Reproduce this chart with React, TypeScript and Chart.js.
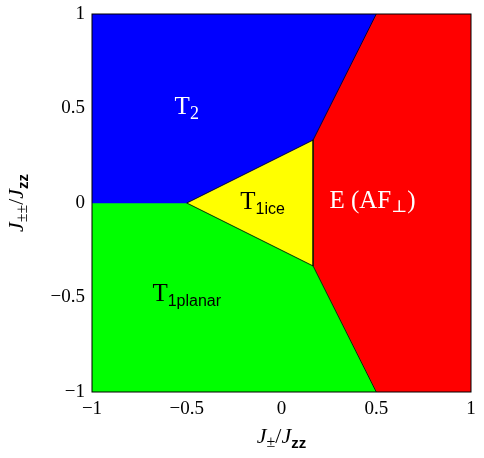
import React, { useEffect, useRef } from 'react';
import { Chart, registerables } from 'chart.js';

Chart.register(...registerables);

// Axis ticks
const tickValues = [-1, -0.5, 0, 0.5, 1];

// Phase regions (polygon vertices, in J±/Jzz , J±±/Jzz units)
const t2X = [-1, 0.5, 1 / 6, -0.5, -1, -1];
const t2Y = [1, 1, 1 / 3, 0, 0, 1];
const planarX = [-1, -0.5, 1 / 6, 0.5, -1, -1];
const planarY = [0, 0, -1 / 3, -1, -1, 0];
const iceX = [-0.5, 1 / 6, 1 / 6, -0.5];
const iceY = [0, 1 / 3, -1 / 3, 0];
const afX = [0.5, 1, 1, 0.5, 1 / 6, 1 / 6, 0.5];
const afY = [1, 1, -1, -1, -1 / 3, 1 / 3, 1];

// Phase boundaries
const boundaryX = [0.5, 1 / 6, -0.5, 1 / 6, 0.5];
const boundaryY = [1, 1 / 3, 0, -1 / 3, -1];
const boundary2X = [1 / 6, 1 / 6];
const boundary2Y = [1 / 3, -1 / 3];

// Phase names
const phaseNames = ['T2', 'T1planar', 'T1ice', 'E (AF⊥)'];

const SERIF = '"Liberation Serif", "DejaVu Serif", serif';
const SANS = '"Liberation Sans", "DejaVu Sans", sans-serif';

const pts = (xs: number[], ys: number[]) => xs.map((x, i) => ({ x, y: ys[i] }));

type Part = { text: string; font: string; dy?: number };

function drawRich(ctx: CanvasRenderingContext2D, parts: Part[], cx: number, baseline: number, color: string) {
  ctx.save();
  ctx.fillStyle = color;
  ctx.textBaseline = 'alphabetic';
  ctx.textAlign = 'left';
  let total = 0;
  const widths = parts.map((p) => {
    ctx.font = p.font;
    const w = ctx.measureText(p.text).width;
    total += w;
    return w;
  });
  let x = cx - total / 2;
  parts.forEach((p, i) => {
    ctx.font = p.font;
    ctx.fillText(p.text, x, baseline + (p.dy || 0));
    x += widths[i];
  });
  ctx.restore();
}

const labelPlugin = {
  id: 'labels',
  afterDraw(chart: any) {
    const ctx: CanvasRenderingContext2D = chart.ctx;
    const xs = chart.scales.x;
    const ys = chart.scales.y;
    const area = chart.chartArea;

    // frame
    ctx.save();
    ctx.strokeStyle = '#000';
    ctx.lineWidth = 1;
    ctx.strokeRect(area.left, area.top, area.right - area.left, area.bottom - area.top);
    ctx.restore();

    const big = `25px ${SERIF}`;
    const sub = `18px ${SERIF}`;
    const subSans = `16px ${SANS}`;

    // T2
    drawRich(ctx, [{ text: 'T', font: big }, { text: '2', font: sub, dy: 5 }],
      xs.getPixelForValue(-0.5), ys.getPixelForValue(0.47), '#fff');
    // T1ice
    drawRich(ctx, [{ text: 'T', font: big }, { text: '1ice', font: subSans, dy: 5 }],
      xs.getPixelForValue(-0.1), ys.getPixelForValue(-0.03), '#000');
    // E (AF⊥)
    drawRich(ctx, [{ text: 'E (AF', font: `25px ${SERIF}` }, { text: '⊥', font: `17px ${SERIF}`, dy: 4 }, { text: ')', font: `25px ${SERIF}` }],
      xs.getPixelForValue(0.48), ys.getPixelForValue(-0.025), '#fff');
    // T1planar
    drawRich(ctx, [{ text: 'T', font: big }, { text: '1planar', font: subSans, dy: 5 }],
      xs.getPixelForValue(-0.5), ys.getPixelForValue(-0.52), '#000');

    // x-axis title
    const tf = `italic 22px ${SERIF}`;
    drawRich(ctx, [
      { text: 'J', font: tf },
      { text: '±', font: `16px ${SERIF}`, dy: 4 },
      { text: '/', font: `22px ${SERIF}` },
      { text: 'J', font: tf },
      { text: 'zz', font: `bold 15px ${SANS}`, dy: 5 },
    ], (area.left + area.right) / 2, 443, '#000');

    // y-axis title (rotated)
    ctx.save();
    ctx.translate(23, (area.top + area.bottom) / 2);
    ctx.rotate(-Math.PI / 2);
    drawRich(ctx, [
      { text: 'J', font: tf },
      { text: '±±', font: `16px ${SERIF}`, dy: 4 },
      { text: '/', font: `22px ${SERIF}` },
      { text: 'J', font: tf },
      { text: 'zz', font: `bold 15px ${SANS}`, dy: 5 },
    ], 0, 0, '#000');
    ctx.restore();
  },
};

export default function App() {
  const ref = useRef<HTMLCanvasElement>(null);

  useEffect(() => {
    document.body.style.margin = '0';
    const fmt = (v: number) => (v < 0 ? '−' + String(Math.abs(v)) : String(v));
    const fillDs = (label: string, xs: number[], ys: number[], color: string) => ({
      label,
      data: pts(xs, ys),
      backgroundColor: color,
      borderColor: color,
      borderWidth: 0.5,
      pointRadius: 0,
      fill: 'shape',
      tension: 0,
      order: 2,
    });
    const chart = new Chart(ref.current!, {
      type: 'line',
      data: {
        datasets: [
          { label: 'b1', data: pts(boundaryX, boundaryY), borderColor: '#000', borderWidth: 0.8, pointRadius: 0, fill: false, order: 0 } as any,
          { label: 'b2', data: pts(boundary2X, boundary2Y), borderColor: '#000', borderWidth: 0.8, pointRadius: 0, fill: false, order: 0 } as any,
          fillDs(phaseNames[0], t2X, t2Y, '#0000ff'),
          fillDs(phaseNames[1], planarX, planarY, '#00ff00'),
          fillDs(phaseNames[2], iceX, iceY, '#ffff00'),
          fillDs(phaseNames[3], afX, afY, '#ff0000'),
        ],
      },
      options: {
        responsive: false,
        animation: false,
        layout: { padding: { top: 14, right: 13, left: 0, bottom: 0 } },
        plugins: { legend: { display: false }, tooltip: { enabled: false } },
        scales: {
          x: {
            type: 'linear',
            min: -1,
            max: 1,
            afterFit: (s: any) => { s.height = 66; s.paddingLeft = 0; s.paddingRight = 0; },
            afterBuildTicks: (s: any) => { s.ticks = tickValues.map((v) => ({ value: v })); },
            grid: { display: false, drawTicks: false },
            border: { display: false },
            ticks: { callback: (v: any) => fmt(Number(v)), color: '#000', font: { family: SERIF, size: 19 }, padding: 6, maxRotation: 0 },
          },
          y: {
            type: 'linear',
            min: -1,
            max: 1,
            afterFit: (s: any) => { s.width = 92; s.paddingTop = 0; s.paddingBottom = 0; },
            afterBuildTicks: (s: any) => { s.ticks = tickValues.map((v) => ({ value: v })); },
            grid: { display: false, drawTicks: false },
            border: { display: false },
            ticks: { callback: (v: any) => fmt(Number(v)), color: '#000', font: { family: SERIF, size: 19 }, padding: 7 },
          },
        },
      } as any,
      plugins: [labelPlugin],
    });
    return () => chart.destroy();
  }, []);

  return (
    <div style={{ position: 'absolute', left: 0, top: 0, width: 484, height: 458 }}>
      <canvas ref={ref} width={484} height={458} />
    </div>
  );
}
